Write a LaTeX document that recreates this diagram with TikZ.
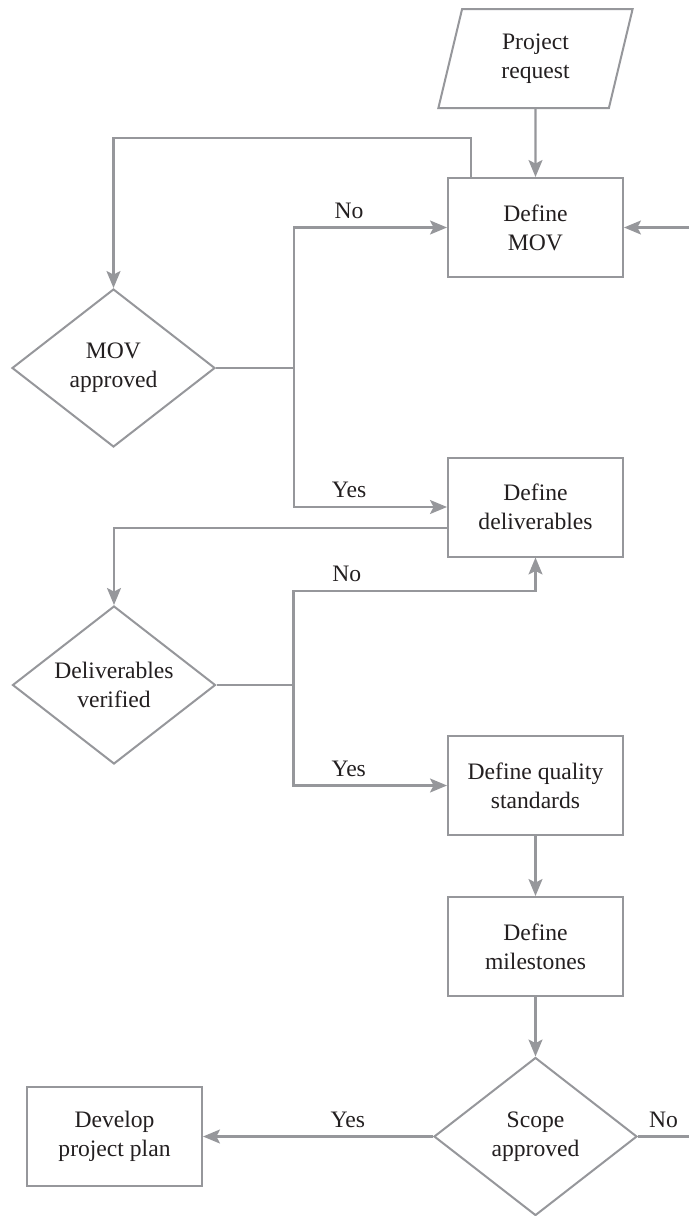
\documentclass[tikz,border=0pt]{standalone}
\usepackage{fontspec}
\setmainfont{Liberation Serif}
\usetikzlibrary{arrows.meta, shapes.geometric}
\definecolor{linegray}{RGB}{150, 151, 155}
\definecolor{inkdark}{RGB}{35, 31, 32}
\tikzset{
    procbox/.style={draw=linegray, line width=1pt, fill=white,
                    minimum width=87.5pt, minimum height=49.5pt, inner sep=0pt,
                    align=center, text=inkdark, font=\fontsize{11.8}{14.5}\selectfont},
    decide/.style ={procbox, shape=diamond, aspect=1.28,
                    minimum width=101.5pt, minimum height=79pt},
    io/.style     ={procbox, trapezium, trapezium left angle=77.5,
                    trapezium right angle=102.5, trapezium stretches=true,
                    minimum width=97.5pt},
    ar/.style     ={-{Stealth[length=8.5pt, width=7pt, inset=1.8pt]}, line width=1.1pt, draw=linegray},
    ln/.style     ={line width=1.1pt, draw=linegray},
    lbl/.style    ={font=\fontsize{11.8}{14.5}\selectfont, text=inkdark, inner sep=1pt}
}

\begin{document}
\begin{tikzpicture}[x=0.5pt, y=0.5pt]
  \useasboundingbox (0,0) rectangle (689,-1216);

  % main column
  \node[io]      (req)   at (535.5,-58.5)  {Project\\request};
  \node[procbox] (mov)   at (535.5,-227.5) {Define\\MOV};
  \node[procbox] (deliv) at (535.5,-507)   {Define\\deliverables};
  \node[procbox] (qual)  at (535.5,-785.5) {Define quality\\standards};
  \node[procbox] (miles) at (535.5,-946.5) {Define\\milestones};
  \node[decide]  (scope) at (535.5,-1136.5) {Scope\\approved};

  % checks on the left
  \node[decide]  (movok) at (113.5,-368)   {MOV\\approved};
  \node[decide]  (delok) at (114,-685)     {Deliverables\\verified};
  \node[procbox] (plan)  at (114.5,-1136.5) {Develop\\project plan};

  \coordinate (fromright) at (689,-227.5);
  \coordinate (toright)   at (689,-1136.5);

  \draw[ar] (req) -- (mov);
  \draw[ar] (fromright) -- (mov.east);
  \draw[ar] ([xshift=12pt]mov.north west) -- ++(0,39) -| (movok.north);

  \draw[ln] (movok.east) -- ++(78,0) coordinate (j1);
  \draw[ar] (j1) |- node[lbl, above=3pt, pos=0.68] {No} (mov.west);
  \draw[ar] (j1) |- node[lbl, above=3pt, pos=0.68] {Yes} (deliv.west);

  \draw[ar] ([yshift=-10.5pt]deliv.west) -| (delok.north);

  \draw[ln] (delok.east) -- ++(77,0) coordinate (j2);
  \draw[ar] (j2) -- ++(0,94) -| node[lbl, above=3pt, pos=0.11] {No} (deliv.south);
  \draw[ar] (j2) |- node[lbl, above=3pt, pos=0.68] {Yes} (qual.west);

  \draw[ar] (qual) -- (miles);
  \draw[ar] (miles) -- (scope);
  \draw[ar] (scope) -- node[lbl, above=3pt, pos=0.37] {Yes} (plan);
  \draw[ln] (scope.east) -- node[lbl, above=3pt] {No} (toright);
\end{tikzpicture}
\end{document}
